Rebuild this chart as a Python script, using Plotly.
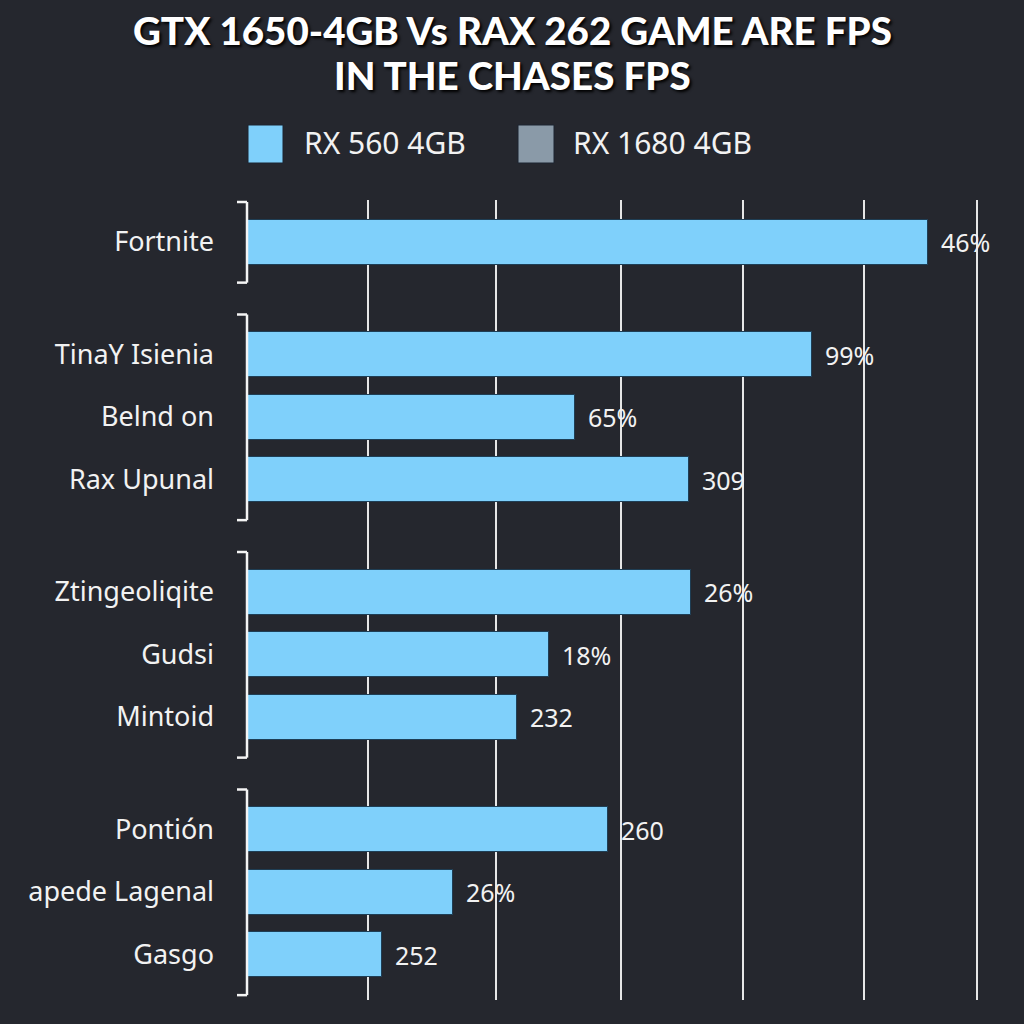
import plotly.graph_objects as go

# ---------------- data ----------------
title_lines = ["GTX 1650-4GB Vs RAX 262 GAME ARE FPS", "IN THE CHASES FPS"]
series_names = ["RX 560 4GB", "RX 1680 4GB"]
series_colors = ["#7fd0fb", "#8a9aa8"]
games = ["Fortnite", "TinaY Isienia", "Belnd on", "Rax Upunal",
         "Ztingeoliqite", "Gudsi", "Mintoid",
         "Pontión", "apede Lagenal", "Gasgo"]
game_groups = [0, 1, 1, 1, 2, 2, 2, 3, 3, 3]
rx560_values = [279.5, 231.8, 134.4, 181.3, 182.0, 123.7, 110.6, 148.0, 84.3, 55.1]
value_labels = ["46%", "99%", "65%", "309", "26%", "18%", "232", "260", "26%", "252"]
grid_ticks = [49.3, 101.9, 153.3, 203.5, 253.2, 299.6]

# ---------------- layout constants ----------------
W, H = 1024, 1024
L, R, T, B = 248, 34, 200, 24
PW, PH = W - L - R, H - T - B
BG = "#25272e"
GROUP_GAP = 0.8
FONT = "Noto Sans, Open Sans, sans-serif"

positions = [i + g * GROUP_GAP for i, g in enumerate(game_groups)]
slot_px = 62.5
y_top = -(242 - T) / slot_px
y_bot = y_top + PH / slot_px


def px_x(px):
    return (px - L) / PW


def px_y(py):
    return (H - B - py) / PH


fig = go.Figure()
fig.add_trace(go.Bar(
    x=rx560_values, y=positions, orientation="h",
    width=0.72,
    marker=dict(color=series_colors[0], line=dict(color="#1e3e55", width=1)),
    showlegend=False, hoverinfo="skip",
))

# value labels
for v, p, t in zip(rx560_values, positions, value_labels):
    fig.add_annotation(x=v, y=p, text=t, showarrow=False, xanchor="left",
                       xshift=11, font=dict(size=25, color="#f2f2f2", family=FONT))

# group brackets
shapes = []
for g in sorted(set(game_groups)):
    members = [p for p, gg in zip(positions, game_groups) if gg == g]
    y0, y1 = min(members) - 0.64, max(members) + 0.65
    xv, xl = px_x(247), px_x(237)
    for (xa, ya, xb, yb) in [(xl, y0, xv, y0), (xv, y0, xv, y1), (xl, y1, xv, y1)]:
        shapes.append(dict(type="line", xref="paper", yref="y",
                           x0=xa, y0=ya, x1=xb, y1=yb,
                           line=dict(color="#f4f4f4", width=2.5)))

# manual legend
legend_items = [(248, 283, 302), (518, 554, 571)]
for (sx0, sx1, tx), name, col in zip(legend_items, series_names, series_colors):
    shapes.append(dict(type="rect", xref="paper", yref="paper",
                       x0=px_x(sx0), x1=px_x(sx1), y0=px_y(163), y1=px_y(125),
                       fillcolor=col, line=dict(color="#1c2530", width=1)))
    fig.add_annotation(xref="paper", yref="paper", x=px_x(tx), y=px_y(143),
                       text=name, showarrow=False, xanchor="left", yanchor="middle",
                       font=dict(size=30, color="#f2f2f2", family=FONT))

# title (two lines placed separately for tighter line spacing)
for line, cy in zip(title_lines, [30, 75]):
    fig.add_annotation(xref="paper", yref="paper", x=px_x(W / 2), y=px_y(cy),
                       text=line, showarrow=False,
                       xanchor="center", yanchor="middle", align="center",
                       font=dict(size=38.5, color="#ffffff",
                                 family="Lato Black, Lato Heavy, Lato, Roboto, sans-serif",
                                 weight=900, shadow="2px 2px 3px #000000"))

fig.update_layout(
    width=W, height=H,
    margin=dict(l=L, r=R, t=T, b=B),
    paper_bgcolor=BG, plot_bgcolor=BG,
    shapes=shapes,
    xaxis=dict(range=[0, 305], tickvals=grid_ticks, showticklabels=False,
               showgrid=True, gridcolor="#e6e6e6", gridwidth=2,
               zeroline=False, showline=False, ticks=""),
    yaxis=dict(range=[y_bot, y_top], tickvals=positions, ticktext=games,
               showgrid=False, zeroline=False, showline=False, ticks="",
               ticklabelstandoff=33,
               tickfont=dict(size=27, color="#f2f2f2", family=FONT)),
    bargap=0,
)

fig.write_html("out.html", config={"displayModeBar": False},
               post_script="document.body.style.margin='0';document.body.style.background='%s';" % BG)
